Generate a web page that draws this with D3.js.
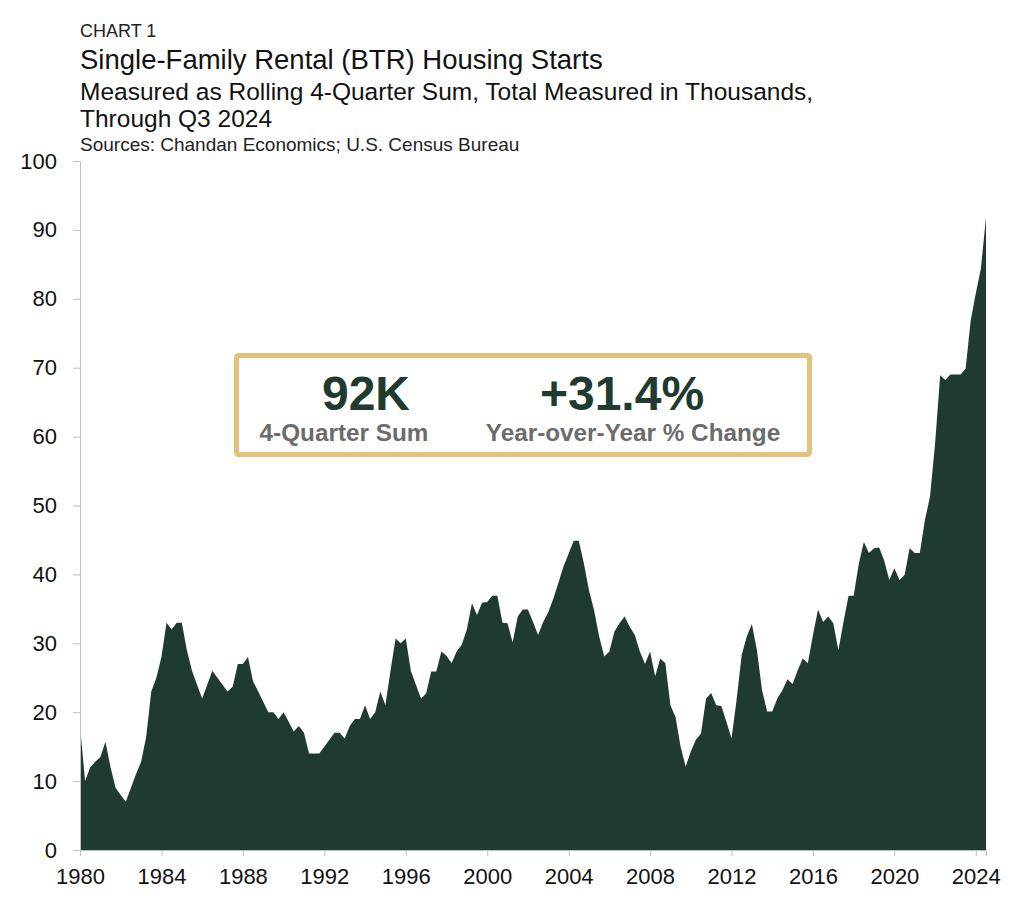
<!DOCTYPE html>
<html>
<head>
<meta charset="utf-8">
<script src="https://cdn.jsdelivr.net/npm/d3@7"></script>
<style>
  html, body { margin: 0; padding: 0; background: #ffffff; }
  svg { display: block; font-family: "Liberation Sans", Arial, sans-serif; }
</style>
</head>
<body>
<svg id="chart" width="1024" height="898"></svg>
<script>
// ---- Data: quarterly rolling 4-quarter sum (thousands), 1980 Q1 .. 2024 Q3 ----
const startYear = 1980;
const values = [
  18, 10, 12, 12.8, 13.5, 15.7, 12, 9, 8, 7, 9, 11,            // 1980-1982
  12.8, 16.4, 23, 25, 28, 33, 32, 33, 33, 29, 26, 24,          // 1983-1985
  22, 24, 26, 25, 24, 23, 23.7, 27, 27, 28, 24.5, 23,          // 1986-1988
  21.5, 20, 20, 19, 20, 18.6, 17.2, 18, 17, 14, 14, 14,        // 1989-1991
  15, 16, 17, 17, 16.2, 18, 19, 19, 21, 19, 20, 23,            // 1992-1994
  21, 26, 30.7, 30, 30.7, 26, 24, 22, 22.7, 25.9, 25.9, 28.8,  // 1995-1997
  28.2, 27.1, 28.8, 29.8, 32, 35.8, 34.1, 35.9, 36, 36.9, 36.9, 33, // 1998-2000
  32.9, 30.1, 33.9, 34.9, 34.9, 33.1, 31.2, 33.1, 34.5, 36.5, 38.8, 41.2, // 2001-2003
  43, 44.9, 44.9, 41.6, 37.7, 34.8, 31, 28.1, 28.8, 31.7, 32.9, 33.9, // 2004-2006
  32.4, 31.2, 28.8, 27, 28.8, 25.2, 27.8, 27.1, 21, 19.3, 15, 12.1,  // 2007-2009
  14.3, 16, 16.9, 22, 22.8, 21, 20.9, 18.6, 16.2, 21.8, 28.3, 31,    // 2010-2012
  32.8, 29, 23.2, 20.1, 20.1, 22, 23.2, 24.8, 24.1, 26.1, 27.8, 27.1, // 2013-2015
  31.2, 34.9, 33.1, 33.9, 32.9, 29, 33.1, 36.9, 36.9, 41.5, 44.7, 43.1, // 2016-2018
  43.8, 43.9, 42, 39.2, 40.9, 39.2, 39.9, 43.8, 43.1, 43.1, 47.9, 51.3, // 2019-2021
  59, 68.9, 68.2, 69, 69, 69, 69.9, 76.9, 80.8, 84.4, 91.8             // 2022-2024 Q3
];
const yTicks = [0, 10, 20, 30, 40, 50, 60, 70, 80, 90, 100];
const xTickYears = [1980, 1984, 1988, 1992, 1996, 2000, 2004, 2008, 2012, 2016, 2020, 2024];

const titleLines = {
  kicker: "CHART 1",
  title: "Single-Family Rental (BTR) Housing Starts",
  sub1: "Measured as Rolling 4-Quarter Sum, Total Measured in Thousands,",
  sub2: "Through Q3 2024",
  source: "Sources: Chandan Economics; U.S. Census Bureau"
};
const callout = [
  { big: "92K", small: "4-Quarter Sum" },
  { big: "+31.4%", small: "Year-over-Year % Change" }
];

const data = values.map((v, i) => ({ t: startYear + i / 4, v }));

const svg = d3.select("#chart");
const plotL = 80, plotR = 986, plotT = 161, plotB = 850;

const x = d3.scaleLinear().domain([startYear, startYear + (values.length - 1) / 4]).range([plotL, plotR]);
const y = d3.scaleLinear().domain([0, 100]).range([plotB, plotT]);

// Titles
svg.append("text").attr("x", 80).attr("y", 37).attr("font-size", 18).attr("fill", "#222").text(titleLines.kicker);
svg.append("text").attr("x", 80).attr("y", 69).attr("font-size", 27.5).attr("fill", "#111").text(titleLines.title);
svg.append("text").attr("x", 80).attr("y", 100).attr("font-size", 24.5).attr("fill", "#111").text(titleLines.sub1);
svg.append("text").attr("x", 80).attr("y", 127).attr("font-size", 24.5).attr("fill", "#111").text(titleLines.sub2);
svg.append("text").attr("x", 80).attr("y", 151).attr("font-size", 19).attr("fill", "#222").text(titleLines.source);

// Area
const area = d3.area().x(d => x(d.t)).y0(y(0)).y1(d => y(d.v)).curve(d3.curveLinear);
svg.append("path").datum(data).attr("d", area).attr("fill", "#1f3b30");

// Y axis
const yAxis = d3.axisLeft(y).tickValues(yTicks).tickSize(7).tickPadding(16).tickFormat(d3.format("d"));
const gy = svg.append("g").attr("transform", `translate(${plotL},0)`).call(yAxis);
gy.select(".domain").attr("stroke", "#bfbfbf");
gy.selectAll(".tick line").attr("stroke", "#bfbfbf");
gy.selectAll("text").attr("font-size", 22).attr("fill", "#111").attr("font-family", "Liberation Sans, Arial, sans-serif");

// X axis
const xAxis = d3.axisBottom(x).tickValues(xTickYears).tickSize(6).tickPadding(12).tickFormat(d3.format("d"));
const gx = svg.append("g").attr("transform", `translate(0,${plotB})`).call(xAxis);
gx.select(".domain").attr("stroke", "#bfbfbf");
gx.selectAll(".tick line").attr("stroke", "#bfbfbf");
gx.selectAll("text").attr("font-size", 22).attr("fill", "#111").attr("font-family", "Liberation Sans, Arial, sans-serif");

// Callout box
svg.append("rect").attr("x", 236.5).attr("y", 355.5).attr("width", 573).attr("height", 99)
  .attr("fill", "#ffffff").attr("stroke", "#e5c27b").attr("stroke-width", 5).attr("rx", 2);
const cx = [366, 622];
const scx = [344, 633];
callout.forEach((c, i) => {
  svg.append("text").attr("x", cx[i]).attr("y", 410).attr("text-anchor", "middle")
    .attr("font-size", 48).attr("font-weight", "bold").attr("fill", "#1f3b30").text(c.big);
  svg.append("text").attr("x", scx[i]).attr("y", 441).attr("text-anchor", "middle")
    .attr("font-size", 24.3).attr("font-weight", "bold").attr("fill", "#6b6b6b").text(c.small);
});
</script>
</body>
</html>
